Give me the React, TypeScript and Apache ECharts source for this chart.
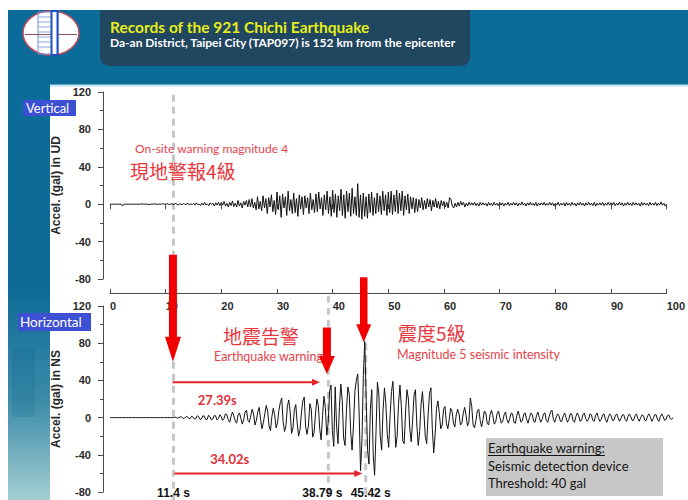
import React, { useEffect, useRef } from "react";
import * as echarts from "echarts";

// ---------------- data ----------------
const SAMPLE_STEP = 0.25; // seconds between samples
const TIME_MIN = 0;
const TIME_MAX = 100;
const TIME_INTERVAL = 10;
const ACC_MIN = -80;
const ACC_MAX = 120;
const ACC_INTERVAL = 40;

// vertical (UD) acceleration, gal, one value every 0.25 s
const udAccel = [
  // 0-5 s
  0, 0, 0, 0, 0, 0, 0, 0, 0, -2, 0, 0, 0, 0, 0, 0, 0, 0, 0, 0,
  // 5-10 s
  0, 0, 0, 0.5, 0, 0, 0, 0, -0.5, 0, 0, 0, 0.5, 0, 0, 0, 0, 0, 0.5, 0,
  // 10-15 s
  0, 0.5, 0, -0.5, 0.5, 0, -0.5, 1, 0, -1, 0.5, 0, -0.5, 1, -0.5, 0, 1, -1, 0.5, -0.5,
  // 15-20 s
  1, -1, 1.5, -0.5, 0, -1.5, 1, -1, 2, -1, 0.5, -1.5, 1.5, -0.5, 1, -2, 1.5, -1, 2, -1.5,
  // 20-25 s
  2, -1, 3, -2, 1, -3, 2, -1.5, 3.5, -2.5, 1, -3, 4, -2, 1.5, -4, 3, -1, 4, -3,
  // 25-30 s
  5, -3, 6, -4, 2, -6, 8, -5, 3, -7, 9, -4, 6, -10, 7, -3, 10, -8, 4, -11,
  // 30-35 s
  13, -6, 9, -14, 11, -4, 8, -12, 14, -7, 5, -10, 12, -9, 6, -13, 10, -5, 8, -11,
  // 35-40 s
  9, -4, 7, -10, 12, -6, 5, -9, 11, -8, 13, -5, 7, -12, 10, -6, 14, -10, 8, -13,
  // 40-45 s
  15, -9, 11, -14, 9, -7, 16, -12, 10, -15, 14, -8, 12, -13, 17, -10, 8, -12, 22, -14,
  // 45-50 s
  10, -16, 12, -13, 8, -15, 11, -9, 13, -12, 7, -10, 12, -8, 9, -11, 14, -7, 10, -12,
  // 50-55 s
  13, -9, 14, -11, 10, -8, 15, -10, 12, -7, 14, -12, 9, -6, 11, -10, 8, -5, 7, -9,
  // 55-60 s
  6, -8, 5, -4, 7, -6, 4, -5, 6, -3, 5, -7, 4, -3, 6, -4, 3, -5, 4, -2,
  // 60-65 s
  3, -3, 2, -4, 7, 5, -2, -4, 1, -3, 2, -2, 3, -1, 2, -3, 1, -2, 2, -1,
  // 65-70 s
  1.5, -1, 2, -1.5, 1, -2, 2, -1, 1.5, -1, 1, -2, 2, -1, 1, -1.5, 2, -1, 1, -1.5,
  // 70-75 s
  2, -1, 1.5, -2, 1, -1, 2, -1.5, 1, -1, 2, -1, 1.5, -2, 1, -1, 2.5, -1, 1, -2,
  // 75-80 s
  1.5, -1, 2, -1, 1, -1.5, 2, -2, 1, -1, 1.5, -1, 2, -1.5, 1, -1, 2, -1, 1.5, -2,
  // 80-85 s
  1, -1, 2, -1.5, 1, -1, 1.5, -2, 2, -1, 1, -1.5, 2, -1, 1, -2, 1.5, -1, 2, -1,
  // 85-90 s
  1, -2, 1.5, -1, 2, -1, 1, -1.5, 2, -2, 1, -1, 1.5, -1, 2, -1.5, 1, -1, 2, -1,
  // 90-95 s
  1.5, -1, 2, -1.5, 1, -1, 2, -1, 1.5, -2, 1, -1, 2, -1, 1, -1.5, 2, -1, 1.5, -1,
  // 95-100 s
  1, -2, 2, -1, 1.5, -1, 1, -1.5, 2, -1, 1, -1, 2, -1.5, 1, -1, 2.5, -1, 1, -2, 0,
];

// horizontal (NS) acceleration, gal, one value every 0.25 s
const nsAccel = [
  // 0-5 s
  0, 0, 0, 0, 0, 0, 0, 0, 0, 0, 0, 0, 0, 0, 0, 0, 0, 0, 0, 0,
  // 5-10 s
  0, 0, 0, 0, 0, 0, 0, 0, 0, 0, 0, 0, 0, 0, 0, 0, 0, 0, 0, 0,
  // 10-15 s
  0, 0, 0, 0, 0, 0, 0.5, 0, -0.5, 0, 1, 0.5, -1, -0.5, 1, 1, -1, -1, 1.5, 0.5,
  // 15-20 s
  -1.5, -1, 2, 1, -2, -1.5, 2, 1.5, -2, -2, 2.5, 1, -2.5, -1.5, 2, 2, -2.5, -1, 3, 1,
  // 20-25 s
  -3, -1, 4, 3, -2, -5, 1, 6, 2, -4, -6, 3, 5, -1, -7, -2, 6, 8, -3, -5,
  // 25-30 s
  2, 9, 4, -8, -3, 6, 11, -2, -12, -5, 4, 13, 7, -9, -14, 1, 10, 3, -11, -6,
  // 30-35 s
  8, 16, 21, -4, -15, -9, 12, 19, 6, -17, -11, 9, 14, -6, -20, -13, 5, 18, 22, -10,
  // 35-40 s
  -18, -8, 15, 9, -21, -16, 4, 20, 13, -12, -24, 2, 23, 11, -19, -6, 28, 35, -14, -31,
  // 40-45 s
  33, -10, -28, 12, 36, 18, -22, -30, 8, 33, 25, -15, -35, -8, 28, 40, 47, 5, -57, -25,
  // 45-50 s
  45, 82, 20, -35, -50, 10, 30, -40, -62, -15, 38, 25, -20, -35, 8, 32, 15, -18, -32, 2,
  // 50-55 s
  28, 39, 5, -32, -20, 15, 35, 12, -25, -28, 6, 30, 20, -12, -26, -3, 24, 30, -8, -30,
  // 55-60 s
  -15, 14, 28, 6, -20, -28, 2, 26, 32, -12, -38, -18, 10, 18, 4, -12, -8, 9, 12, -6,
  // 60-65 s
  -12, -2, 10, 7, -6, -10, 3, 9, 4, -8, -6, 5, 11, 2, -9, -5, 21, 12, -8, -11,
  // 65-70 s
  -3, 7, 9, -3, -10, -2, 7, 5, -6, -8, 3, 8, 2, -7, -5, 4, 7, 0, -6, -4,
  // 70-75 s
  3, 6, -2, -6, -1, 5, 4, -5, -6, 2, 7, 1, -5, -3, 4, 5, -2, -6, 0, 5,
  // 75-80 s
  3, -4, -5, 2, 6, 0, -5, -2, 4, 5, -3, -5, 1, 6, 8, -2, -5, 0, 4, 2,
  // 80-85 s
  -4, -4, 2, 5, 0, -5, -2, 4, 4, -3, -5, 1, 5, 2, -4, -3, 3, 5, -1, -4,
  // 85-90 s
  -2, 4, 3, -3, -4, 2, 5, 0, -4, -2, 3, 4, -2, -5, 0, 4, 2, -3, -3, 2,
  // 90-95 s
  4, 0, -4, -1, 3, 3, -2, -4, 1, 4, 1, -3, -3, 2, 4, -1, -4, 0, 3, 2,
  // 95-100 s
  -3, -3, 2, 4, 0, -4, -1, 3, 3, -2, -4, 1, 4, 1, -3, -2, 2, 3, -1, -2, 0,
];

// event times (s) and their labels
const eventTimes = [11.4, 38.79, 45.42];
const eventLabels = ["11.4 s", "38.79 s", "45.42 s"];
// warning lead times
const leadTimeLabels = ["27.39s", "34.02s"];

const titleText = "Records of the 921 Chichi Earthquake";
const subtitleText = "Da-an District, Taipei City (TAP097) is 152 km from the epicenter";
const udAxisName = "Accel. (gal) in UD";
const nsAxisName = "Accel. (gal) in NS";

// ---------------- styles ----------------
const AXIS_FONT = "'Liberation Sans', Arial, sans-serif";
const CAL_FONT = "Lato, 'Noto Sans', sans-serif";
const CJK_FONT = "'Noto Sans CJK TC', 'Noto Sans CJK SC', sans-serif";
const AXIS_COLOR = "#4a4a4a";
const RED = "#f20000";
const TEXT_RED = "#e6434a";

const toSeries = (vals: number[]) => vals.map((v, i) => [i * SAMPLE_STEP, v]);

function buildBaseOption(): any {
  const labelStyle = {
    fontFamily: AXIS_FONT,
    fontWeight: "bold",
    fontSize: 11,
    color: "#2a2a2a",
  };
  const yAxisCommon = (gridIndex: number, name: string) => ({
    gridIndex,
    type: "value",
    min: ACC_MIN,
    max: ACC_MAX,
    interval: ACC_INTERVAL,
    position: "left",
    offset: 7,
    name,
    nameLocation: "middle",
    nameGap: 31,
    nameTextStyle: {
      fontFamily: AXIS_FONT,
      fontWeight: "bold",
      fontSize: 12,
      color: "#2a2a2a",
    },
    axisLine: { show: true, onZero: false, lineStyle: { color: AXIS_COLOR, width: 1 } },
    axisTick: { show: true, length: 5, lineStyle: { color: AXIS_COLOR } },
    minorTick: { show: true, splitNumber: 2, length: 3, lineStyle: { color: AXIS_COLOR } },
    axisLabel: { ...labelStyle, margin: 12 },
    splitLine: { show: false },
  });
  return {
    animation: false,
    grid: [
      { left: 110, width: 563, top: 92, height: 187 },
      { left: 110, width: 563, top: 306, height: 186 },
    ],
    xAxis: [
      {
        gridIndex: 0,
        type: "value",
        min: TIME_MIN,
        max: TIME_MAX,
        interval: TIME_INTERVAL,
        position: "bottom",
        offset: 14,
        axisLine: { show: true, onZero: false, lineStyle: { color: AXIS_COLOR, width: 1 } },
        axisTick: { show: true, inside: true, length: 4, lineStyle: { color: AXIS_COLOR } },
        axisLabel: { ...labelStyle, align: "left", margin: 7, showMaxLabel: true },
        splitLine: { show: false },
      },
      {
        gridIndex: 0,
        type: "value",
        min: TIME_MIN,
        max: TIME_MAX,
        interval: TIME_INTERVAL,
        position: "bottom",
        offset: 14,
        axisLine: { show: false },
        axisTick: { show: true, inside: false, length: 5, lineStyle: { color: AXIS_COLOR } },
        axisLabel: { show: false },
        splitLine: { show: false },
      },
      {
        gridIndex: 1,
        type: "value",
        min: TIME_MIN,
        max: TIME_MAX,
        interval: TIME_INTERVAL,
        show: false,
      },
    ],
    yAxis: [yAxisCommon(0, udAxisName), yAxisCommon(1, nsAxisName)],
    series: [
      {
        type: "line",
        xAxisIndex: 0,
        yAxisIndex: 0,
        data: toSeries(udAccel),
        showSymbol: false,
        symbol: "none",
        silent: true,
        z: 3,
        lineStyle: { color: "#121212", width: 1 },
      },
      {
        type: "line",
        xAxisIndex: 2,
        yAxisIndex: 1,
        data: toSeries(nsAccel),
        showSymbol: false,
        symbol: "none",
        silent: true,
        z: 3,
        lineStyle: { color: "#121212", width: 1 },
      },
    ],
  };
}

function textEl(
  text: string,
  x: number,
  y: number,
  opts: { size: number; fill: string; family?: string; weight?: string; align?: string; vAlign?: string; z?: number }
): any {
  return {
    type: "text",
    x,
    y,
    z: opts.z ?? 20,
    silent: true,
    style: {
      text,
      fill: opts.fill,
      fontSize: opts.size,
      fontFamily: opts.family ?? CAL_FONT,
      fontWeight: opts.weight ?? "normal",
      textAlign: opts.align ?? "left",
      textVerticalAlign: opts.vAlign ?? "middle",
    },
  };
}

function vArrow(x: number, yTop: number, yTip: number, shaftW: number, headW: number, headL: number): any {
  const yh = yTip - headL;
  return {
    type: "polygon",
    z: 25,
    silent: true,
    shape: {
      points: [
        [x - shaftW / 2, yTop],
        [x + shaftW / 2, yTop],
        [x + shaftW / 2, yh],
        [x + headW / 2, yh],
        [x, yTip],
        [x - headW / 2, yh],
        [x - shaftW / 2, yh],
      ],
    },
    style: { fill: RED },
  };
}

function hArrow(x1: number, x2: number, y: number): any[] {
  const hl = 8;
  const hw = 7;
  return [
    {
      type: "line",
      z: 25,
      silent: true,
      shape: { x1, y1: y, x2: x2 - hl + 1, y2: y },
      style: { stroke: "#e3242b", lineWidth: 2 },
    },
    {
      type: "polygon",
      z: 25,
      silent: true,
      shape: { points: [[x2, y], [x2 - hl, y - hw / 2], [x2 - hl, y + hw / 2]] },
      style: { fill: "#e3242b" },
    },
  ];
}

function dashed(x: number, y1: number, y2: number): any {
  return {
    type: "line",
    z: 1,
    silent: true,
    shape: { x1: x, y1, x2: x, y2 },
    style: { stroke: "#c6c6c6", lineWidth: 3, lineDash: [7, 5] },
  };
}

function buildGraphics(chart: echarts.ECharts): any[] {
  const px = (g: number, t: number, v: number) =>
    chart.convertToPixel({ gridIndex: g } as any, [t, v]) as unknown as number[];

  const els: any[] = [];

  // ---------- background ----------
  els.push({
    type: "rect",
    z: -10,
    silent: true,
    shape: { x: 8, y: 10, width: 680, height: 490 },
    style: {
      fill: new echarts.graphic.LinearGradient(0, 0, 0, 1, [
        { offset: 0, color: "#0b6c9a" },
        { offset: 0.57, color: "#0e6b96" },
        { offset: 0.8, color: "#3d8ca8" },
        { offset: 1, color: "#a4cfd4" },
      ]),
    },
  });
  els.push({
    type: "rect",
    z: -9,
    silent: true,
    shape: { x: 12, y: 348, width: 23, height: 69 },
    style: { fill: "rgba(8,95,145,0.16)" },
  });
  els.push({
    type: "rect",
    z: -9,
    silent: true,
    shape: { x: 50, y: 85, width: 638, height: 415 },
    style: { fill: "#ffffff" },
  });
  els.push({
    type: "line",
    z: -8,
    silent: true,
    shape: { x1: 50, y1: 85.5, x2: 688, y2: 85.5 },
    style: { stroke: "#bde6ee", lineWidth: 2 },
  });

  // header box
  els.push({
    type: "rect",
    z: -8,
    silent: true,
    shape: { x: 100, y: 10, width: 370, height: 56, r: [0, 0, 9, 9] },
    style: { fill: "#21465f" },
  });
  els.push(textEl(titleText, 110, 27, { size: 15.5, fill: "#e6ee1a", weight: "bold", z: 5 }));
  els.push(textEl(subtitleText, 110, 42, { size: 12, fill: "#ffffff", weight: "bold", z: 5 }));

  // logo
  els.push({
    type: "ellipse",
    z: -7,
    silent: true,
    shape: { cx: 51, cy: 33, rx: 28, ry: 22 },
    style: { fill: "#ffffff", stroke: "#c34c5c", lineWidth: 1.5 },
  });
  const logoLines: number[] = [17, 22, 27, 32, 37, 42, 47];
  els.push({
    type: "rect",
    z: -6,
    silent: true,
    shape: { x: 38, y: 12, width: 20, height: 42 },
    style: { fill: "none", stroke: "#6f8fd8", lineWidth: 1 },
  });
  logoLines.forEach((y) =>
    els.push({
      type: "line",
      z: -6,
      silent: true,
      shape: { x1: 38, y1: y, x2: 58, y2: y },
      style: { stroke: "#8aa4e0", lineWidth: 1 },
    })
  );
  const wavePts: number[][] = [];
  for (let x = 25; x <= 77; x += 2) wavePts.push([x, 32 + ((x / 2) % 2 === 0 ? -2.5 : 2.5)]);
  els.push({
    type: "polyline",
    z: -5,
    silent: true,
    shape: { points: wavePts },
    style: { stroke: "#8a5060", lineWidth: 1, fill: "none" },
  });
  els.push({
    type: "rect",
    z: -4,
    silent: true,
    shape: { x: 51.5, y: 11, width: 6, height: 44 },
    style: { fill: "#ffffff", stroke: "#1f4fc4", lineWidth: 2 },
  });

  // panel labels
  els.push({
    type: "rect",
    z: 5,
    silent: true,
    shape: { x: 23, y: 100, width: 53, height: 16 },
    style: { fill: "#3d4fd2" },
  });
  els.push(textEl("Vertical", 26, 108, { size: 13, fill: "#ffffff", z: 6 }));
  els.push({
    type: "rect",
    z: 5,
    silent: true,
    shape: { x: 18, y: 313, width: 73, height: 18 },
    style: { fill: "#3d4fd2" },
  });
  els.push(textEl("Horizontal", 20, 322, { size: 13.5, fill: "#ffffff", z: 6 }));

  // ---------- dashed event lines ----------
  const [t1, t2, t3] = eventTimes;
  const x1 = px(0, t1, 0)[0];
  const x2 = px(1, t2, 0)[0];
  const x3 = px(1, t3, 0)[0];
  els.push(dashed(x1, px(0, t1, 117)[1], px(0, t1, -56)[1]));
  els.push(dashed(x1, px(1, t1, 60)[1], px(1, t1, -92)[1]));
  els.push(dashed(x2, px(1, t2, 131)[1], px(1, t2, -92)[1]));
  els.push(dashed(x3, px(1, t3, 80)[1], px(1, t3, -92)[1]));

  // ---------- big red arrows ----------
  els.push(vArrow(x1 - 0.5, px(0, t1, -54)[1], px(1, t1, 60)[1], 8, 16, 25));
  els.push(vArrow(x2 - 1.5, px(1, t2, 97)[1], px(1, t2, 47)[1], 8, 16, 18));
  els.push(vArrow(x3 - 2, px(0, t3, -78)[1], px(1, t3, 81)[1], 7.5, 15, 18));

  // ---------- lead-time arrows ----------
  const yLead1 = px(1, t1, 38)[1];
  const yLead2 = px(1, t1, -60)[1];
  els.push(...hArrow(x1 - 1, px(1, t2 - 1.5, 0)[0], yLead1));
  els.push(...hArrow(x1 + 1, px(1, t3 - 0.6, 0)[0], yLead2));
  els.push(
    textEl(leadTimeLabels[0], px(1, 15.6, 0)[0], px(1, 0, 19)[1], {
      size: 13,
      fill: "#e0323a",
      weight: "bold",
    })
  );
  els.push(
    textEl(leadTimeLabels[1], px(1, 17.8, 0)[0], px(1, 0, -44.5)[1], {
      size: 13,
      fill: "#e0323a",
      weight: "bold",
    })
  );

  // ---------- annotation texts ----------
  els.push(textEl("On-site warning magnitude 4", 135, 148, { size: 12, fill: TEXT_RED }));
  els.push(textEl("現地警報4級", 130, 170, { size: 19, fill: "#e8363d", family: CJK_FONT }));
  els.push(textEl("地震告警", 223, 335, { size: 19, fill: "#e8363d", family: CJK_FONT }));
  els.push(textEl("Earthquake warning", 214, 356, { size: 12.5, fill: TEXT_RED }));
  els.push(textEl("震度5級", 398, 332, { size: 19, fill: "#e8363d", family: CJK_FONT }));
  els.push(textEl("Magnitude 5 seismic intensity", 397, 354, { size: 12.5, fill: TEXT_RED }));

  // ---------- info box ----------
  els.push({
    type: "rect",
    z: 15,
    silent: true,
    shape: { x: 486, y: 438, width: 177, height: 58 },
    style: { fill: "#c7c7c7" },
  });
  const boxLines = ["Earthquake warning:", "Seismic detection device", "Threshold: 40 gal"];
  boxLines.forEach((s, i) =>
    els.push(textEl(s, 488, 448 + i * 17.5, { size: 13, fill: "#151515", z: 16 }))
  );
  const uw = new echarts.graphic.Text({
    style: { text: boxLines[0], fontSize: 13, fontFamily: CAL_FONT },
  } as any).getBoundingRect().width;
  els.push({
    type: "line",
    z: 16,
    silent: true,
    shape: { x1: 488, y1: 455.5, x2: 488 + uw, y2: 455.5 },
    style: { stroke: "#151515", lineWidth: 1 },
  });

  // ---------- bottom event labels ----------
  const labelX = [x1, x2 - 6, x3 + 5];
  eventLabels.forEach((s, i) =>
    els.push(
      textEl(s, labelX[i], 498.5, {
        size: 12,
        fill: "#111111",
        weight: "bold",
        family: AXIS_FONT,
        align: "center",
        vAlign: "bottom",
      })
    )
  );

  return els;
}

export default function App() {
  const ref = useRef<HTMLDivElement>(null);
  useEffect(() => {
    if (!ref.current) return;
    const chart = echarts.init(ref.current, undefined, { renderer: "svg" });
    chart.setOption(buildBaseOption());
    chart.setOption({ graphic: { elements: buildGraphics(chart) } });
    return () => chart.dispose();
  }, []);
  return (
    <div
      ref={ref}
      style={{ position: "fixed", left: 0, top: 0, width: 688, height: 500, background: "#ffffff" }}
    />
  );
}
